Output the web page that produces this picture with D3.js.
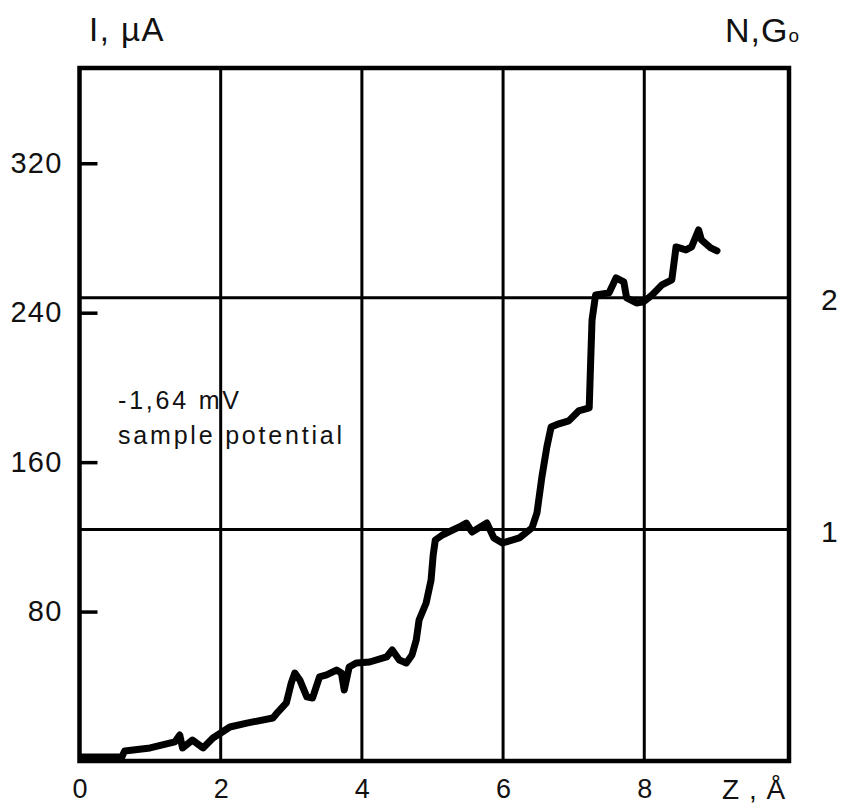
<!DOCTYPE html>
<html>
<head>
<meta charset="utf-8">
<script src="https://cdn.jsdelivr.net/npm/d3@7"></script>
<style>
  html, body { margin: 0; padding: 0; background: #fff; }
  svg text { font-family: "Liberation Sans", Arial, Helvetica, sans-serif; fill: #111; }
</style>
</head>
<body>
<svg id="chart" width="843" height="807"></svg>
<script>
// Tip–sample separation Z (Å) and tunnelling current I (µA)
const zValues = [0.03, 0.60, 0.64, 1.00, 1.35, 1.42, 1.46, 1.60, 1.75, 1.89, 2.00, 2.13, 2.37, 2.74, 2.81,
  2.93, 3.00, 3.05, 3.12, 3.22, 3.30, 3.40, 3.50, 3.64, 3.71, 3.75, 3.82, 3.92, 4.11, 4.35, 4.43, 4.53,
  4.63, 4.71, 4.77, 4.81, 4.91, 4.98, 5.01, 5.04, 5.14, 5.38, 5.48, 5.56, 5.77, 5.87, 5.99, 6.23, 6.41,
  6.48, 6.55, 6.62, 6.68, 6.79, 6.93, 7.07, 7.22, 7.24, 7.26, 7.31, 7.50, 7.60, 7.71, 7.75, 7.89, 7.99,
  8.11, 8.25, 8.39, 8.45, 8.59, 8.67, 8.77, 8.81, 8.94, 9.03];
const currentValues = [2.1, 2.1, 5.4, 7.0, 10.2, 13.9, 7.0, 11.2, 7.0, 12.3, 15.0, 18.2, 20.3, 23.0, 26.2,
  31.1, 41.8, 47.1, 43.4, 34.3, 33.7, 45.0, 46.1, 48.7, 47.1, 38.0, 50.3, 52.5, 53.0, 55.7, 59.4, 54.1,
  52.5, 56.8, 64.8, 75.5, 84.6, 96.9, 110.3, 118.3, 121.0, 125.3, 127.4, 122.6, 127.4, 119.4, 116.7, 119.4, 124.8,
  132.8, 152.1, 168.1, 178.8, 180.5, 182.1, 187.4, 189.0, 213.1, 236.1, 249.5, 250.6, 258.6, 256.5, 247.9, 245.2, 245.8,
  249.5, 254.9, 257.6, 275.2, 273.6, 275.2, 284.3, 279.0, 274.7, 273.1];

// Axis ticks
const zTicks = [0, 2, 4, 6, 8];
const zGrid = [2, 4, 6, 8];
const currentTicks = [80, 160, 240, 320];
const conductanceTicks = [1, 2];      // N, in units of G0
const currentPerG0 = 124;             // µA per conductance quantum at this bias

const svg = d3.select("#chart");

const x = d3.scaleLinear().domain([0, 10.05]).range([79.5, 789]);
const y = d3.scaleLinear().domain([0, 371]).range([761, 68]);
const yN = d3.scaleLinear().domain([0, 371 / currentPerG0]).range([761, 68]);

// grid: vertical Z lines
svg.append("g").selectAll("line").data(zGrid).join("line")
  .attr("x1", d => x(d)).attr("x2", d => x(d))
  .attr("y1", y.range()[1]).attr("y2", y.range()[0])
  .attr("stroke", "#000").attr("stroke-width", 3);

// horizontal conductance-quantum lines
svg.append("g").selectAll("line").data(conductanceTicks).join("line")
  .attr("x1", x.range()[0]).attr("x2", x.range()[1])
  .attr("y1", d => yN(d)).attr("y2", d => yN(d))
  .attr("stroke", "#000").attr("stroke-width", 3);

// frame
svg.append("rect")
  .attr("x", x.range()[0]).attr("y", y.range()[1])
  .attr("width", x.range()[1] - x.range()[0])
  .attr("height", y.range()[0] - y.range()[1])
  .attr("fill", "none").attr("stroke", "#000").attr("stroke-width", 4.5);

// left axis: inward ticks with labels outside
const leftAxis = d3.axisLeft(y).tickValues(currentTicks).tickSizeInner(-18).tickSizeOuter(0).tickPadding(17);
const gL = svg.append("g").attr("transform", `translate(${x.range()[0]},0)`).call(leftAxis);
gL.select(".domain").remove();
gL.selectAll(".tick line").attr("stroke", "#000").attr("stroke-width", 3.5);
gL.selectAll(".tick text").attr("font-size", 29).attr("letter-spacing", 1.2).attr("fill", "#111");

// bottom axis labels
const bottomAxis = d3.axisBottom(x).tickValues(zTicks).tickSize(0).tickPadding(18).tickFormat(d3.format("d"));
const gB = svg.append("g").attr("transform", `translate(0,${y.range()[0]})`).call(bottomAxis);
gB.select(".domain").remove();
gB.selectAll(".tick text").attr("font-size", 27).attr("fill", "#111");

// right axis labels (N)
const rightAxis = d3.axisRight(yN).tickValues(conductanceTicks).tickSize(0).tickPadding(32).tickFormat(d3.format("d"));
const gR = svg.append("g").attr("transform", `translate(${x.range()[1]},0)`).call(rightAxis);
gR.select(".domain").remove();
gR.selectAll(".tick text").attr("font-size", 30).attr("fill", "#111").attr("dy", "0.4em");

// axis titles
svg.append("text").attr("x", 89).attr("y", 41).attr("font-size", 33).attr("letter-spacing", 1.5).text("I, µA");
const nt = svg.append("text").attr("x", 725).attr("y", 42).attr("font-size", 34).attr("letter-spacing", 1);
nt.append("tspan").text("N,G");
nt.append("tspan").attr("font-size", 19).text("o");
svg.append("text").attr("x", 722).attr("y", 799).attr("font-size", 28).attr("letter-spacing", 1).text("Z , Å");

// annotation
svg.append("text").attr("x", 118).attr("y", 409).attr("font-size", 25).attr("letter-spacing", 2.8).text("-1,64 mV");
svg.append("text").attr("x", 118).attr("y", 444).attr("font-size", 25).attr("letter-spacing", 2.8).text("sample potential");

// I(Z) trace
const pts = zValues.map((z, i) => [z, currentValues[i]]);
svg.append("path").datum(pts)
  .attr("d", d3.line().x(d => x(d[0])).y(d => y(d[1])))
  .attr("fill", "none").attr("stroke", "#000").attr("stroke-width", 7)
  .attr("stroke-linejoin", "round").attr("stroke-linecap", "round");
</script>
</body>
</html>
